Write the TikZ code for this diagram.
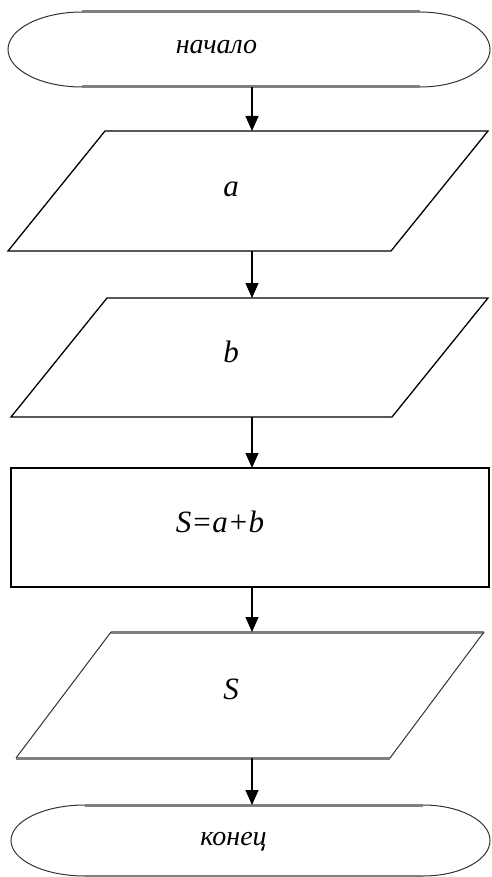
\documentclass[tikz,border=0pt]{standalone}
\usepackage{fontspec}
\setmainfont{Liberation Serif}
\newfontfamily\tnrit{Liberation Serif Italic}
\usetikzlibrary{arrows.meta,calc}
\begin{document}
\begin{tikzpicture}[x=1pt,y=-1pt,
  frame/.style={draw=none,inner sep=0pt,outer sep=0pt},
  blackline/.style={draw=black,line width=1.3pt,line join=miter},
  grayline/.style={draw=gray,line width=3pt},
  thinside/.style={draw=black!80,line width=1pt},
  arr/.style={draw=black,line width=1.3pt,-{Triangle[width=13pt,length=15pt]}},
  bigtxt/.style={inner sep=0pt,anchor=base,font=\tnrit\fontsize{31}{36}\selectfont},
  termtxt/.style={inner sep=0pt,anchor=base,font=\tnrit\fontsize{28}{32}\selectfont}]
\useasboundingbox[fill=white] (0,0) rectangle (491,877);

% frames of the blocks
\node[frame,minimum width=482pt,minimum height=75pt] (start) at (249,49.5) {};
\node[frame,minimum width=480pt,minimum height=120pt] (inA) at (248,191) {};
\node[frame,minimum width=477pt,minimum height=119pt] (inB) at (249.5,357.5) {};
\node[frame,minimum width=478pt,minimum height=119pt] (proc) at (250,527.5) {};
\node[frame,minimum width=468pt,minimum height=126pt] (out) at (250,695) {};
\node[frame,minimum width=479pt,minimum height=71pt] (stop) at (250.5,840.5) {};

% start terminator
\draw[grayline] (82,12) -- (420,12);
\draw[grayline] (82,87) -- (420,87);
\draw[thinside] (420,12) .. controls (459,12) and (490,29) .. (490,49.5)
  .. controls (490,70) and (459,87) .. (420,87);
\draw[thinside] (82,87) .. controls (41,87) and (8,70) .. (8,49.5)
  .. controls (8,29) and (41,12) .. (82,12);

% input a
\draw[blackline] ($(inA.north west)+(97,0)$) -- (inA.north east)
  -- ($(inA.south west)+(383,0)$) -- (inA.south west) -- cycle;
% input b
\draw[blackline] ($(inB.north west)+(96,0)$) -- (inB.north east)
  -- ($(inB.south west)+(381,0)$) -- (inB.south west) -- cycle;
% process
\draw[blackline] (proc.north west) rectangle (proc.south east);
% output S
\draw[grayline] ($(out.north west)+(95,0)$) -- (out.north east);
\draw[grayline] (out.south west) -- ($(out.south west)+(374,0)$);
\draw[thinside] (out.north east) -- ($(out.south west)+(374,0)$);
\draw[thinside] (out.south west) -- ($(out.north west)+(95,0)$);

% stop terminator
\draw[grayline] (85,805) -- (423,805);
\draw[grayline] (85,876) -- (423,876);
\draw[thinside] (423,805) .. controls (460,805) and (490,821) .. (490,840.5)
  .. controls (490,860) and (460,876) .. (423,876);
\draw[thinside] (85,876) .. controls (44,876) and (11,860) .. (11,840.5)
  .. controls (11,821) and (44,805) .. (85,805);

% texts
\node[termtxt] (t0) at (216.5,54) {начало};
\node[bigtxt] (t1) at (231,197) {a};
\node[bigtxt] (t2) at (231,362) {b};
\node[bigtxt] (t3) at (220,532) {S=a+b};
\node[bigtxt] (t4) at (231,699) {S};
\node[termtxt] (t5) at (233.5,845) {конец};

% connectors
\coordinate (ax) at (252,0);
\draw[arr] (start.south -| ax) -- (inA.north -| ax);
\draw[arr] (inA.south -| ax) -- (inB.north -| ax);
\draw[arr] (inB.south -| ax) -- (proc.north -| ax);
\draw[arr] (proc.south -| ax) -- (out.north -| ax);
\draw[arr] (out.south -| ax) -- (stop.north -| ax);
\end{tikzpicture}
\end{document}
